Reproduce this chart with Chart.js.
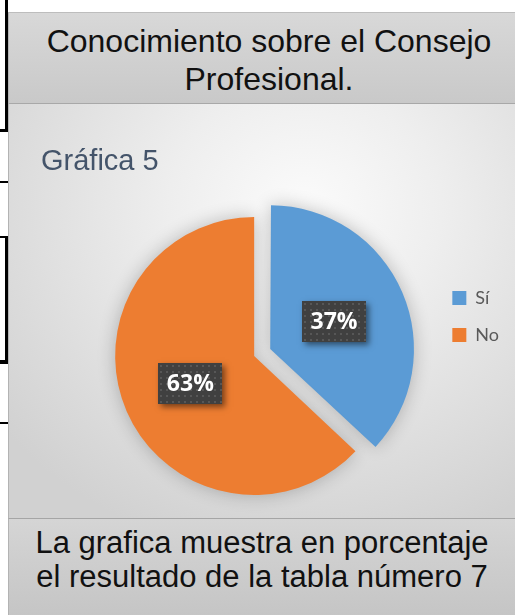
<!DOCTYPE html>
<html>
<head>
<meta charset="utf-8">
<script src="https://cdn.jsdelivr.net/npm/chart.js@4.4.1/dist/chart.umd.min.js"></script>
<style>
  html, body { margin: 0; padding: 0; background: #fff; }
  #page { position: relative; width: 515px; height: 615px; overflow: hidden; font-family: "Liberation Sans", Arial, sans-serif; }
  .ln { position: absolute; background: #000; }
  #header {
    position: absolute; left: 8px; top: 12px; width: 520px; height: 90px;
    border-top: 1px solid #bdbdbd; border-bottom: 1px solid #a8a8a8; border-left: 1px solid #b3b3b3;
    background: linear-gradient(#d8d8d8, #c9c9c9);
  }
  #header div { margin-top: 9px; text-align: center; font-size: 32px; line-height: 38px; color: #111; }
  #panel {
    position: absolute; left: 8px; top: 104px; width: 520px; height: 414px;
    border-left: 1px solid #b3b3b3;
    background: radial-gradient(ellipse 75% 85% at 57% 25%, #fbfbfb 0%, #eeeeee 35%, #d1d1d1 100%);
  }
  #footer {
    position: absolute; left: 8px; top: 518px; width: 506px; height: 97px;
    border-top: 1px solid #a5a5a5; border-left: 1px solid #b3b3b3;
    background: linear-gradient(#d5d5d5, #c5c5c5);
  }
  #footer div { margin-top: 7px; text-align: center; font-size: 31px; line-height: 34px; color: #111; }
  #chartTitle { position: absolute; left: 41px; top: 146px; font-size: 29px; line-height: 29px; color: #44546A; }
  #chart { position: absolute; left: 0; top: 0; }
</style>
</head>
<body>
<div id="page">
  <div class="ln" style="left:5px;top:0;width:3px;height:132px"></div>
  <div class="ln" style="left:0;top:129px;width:8px;height:3px"></div>
  <div class="ln" style="left:0;top:181px;width:8px;height:2px"></div>
  <div class="ln" style="left:0;top:236px;width:8px;height:2px"></div>
  <div class="ln" style="left:5px;top:236px;width:3px;height:128px"></div>
  <div class="ln" style="left:0;top:360px;width:8px;height:4px"></div>
  <div class="ln" style="left:0;top:422px;width:8px;height:2px"></div>

  <div id="header"><div>Conocimiento sobre el Consejo<br>Profesional.</div></div>
  <div id="panel"></div>
  <div id="footer"><div>La grafica muestra en porcentaje<br>el resultado de la tabla número 7</div></div>
  <canvas id="chart" width="515" height="615"></canvas>
  <div id="chartTitle">Gráfica 5</div>
</div>

<script>
const categories = ['Sí', 'No'];
const percents = [37, 63];
const sliceColors = ['#5B9BD5', '#ED7D31'];

// soft grey halo under the pie
const pieShadow = {
  id: 'pieShadow',
  beforeDatasetsDraw(chart) {
    const ctx = chart.ctx;
    ctx.save();
    ctx.shadowColor = 'rgba(0,0,0,0.24)';
    ctx.shadowBlur = 18;
  },
  afterDatasetsDraw(chart) {
    chart.ctx.restore();
  }
};

// dark boxed percentage labels, like the office data labels
const labelBoxes = {
  id: 'labelBoxes',
  afterDatasetsDraw(chart) {
    const ctx = chart.ctx;
    const meta = chart.getDatasetMeta(0);
    const values = chart.data.datasets[0].data;
    meta.data.forEach((arc, i) => {
      const mid = (arc.startAngle + arc.endAngle) / 2;
      // arcs are pushed out by offset / 4 when drawn
      const dist = arc.outerRadius / 2 + (arc.options.offset || 0) / 4;
      const x = arc.x + Math.cos(mid) * dist;
      const y = arc.y + Math.sin(mid) * dist;
      const w = 64, h = 41;
      const left = Math.round(x - w / 2), top = Math.round(y - h / 2);

      ctx.save();
      ctx.shadowColor = 'rgba(0,0,0,0.5)';
      ctx.shadowBlur = 6;
      ctx.shadowOffsetX = 3;
      ctx.shadowOffsetY = 3;
      ctx.fillStyle = '#404040';
      ctx.fillRect(left, top, w, h);
      ctx.restore();

      ctx.save();
      ctx.fillStyle = '#575757';
      for (let gx = left + 2; gx < left + w - 1; gx += 6) {
        for (let gy = top + 2; gy < top + h - 1; gy += 6) {
          ctx.fillRect(gx, gy, 2, 2);
        }
      }
      ctx.fillStyle = '#ffffff';
      ctx.font = 'bold 23px "Open Sans", sans-serif';
      ctx.textAlign = 'center';
      ctx.textBaseline = 'middle';
      ctx.fillText(values[i] + '%', x, y + 1);
      ctx.restore();
    });
  }
};

new Chart(document.getElementById('chart').getContext('2d'), {
  type: 'pie',
  data: {
    labels: categories,
    datasets: [{
      data: percents,
      backgroundColor: sliceColors,
      borderWidth: 0,
      offset: [70, 0],
      clip: false
    }]
  },
  options: {
    responsive: false,
    animation: false,
    radius: 139,
    layout: { padding: { left: 75, right: 6, top: 270, bottom: 173 } },
    plugins: {
      tooltip: { enabled: false },
      title: { display: false },
      legend: {
        position: 'right',
        align: 'start',
        fullSize: false,
        labels: {
          boxWidth: 14,
          boxHeight: 14,
          padding: 19,
          color: '#595959',
          font: { family: 'Lato', size: 18 }
        }
      }
    }
  },
  plugins: [pieShadow, labelBoxes]
});
</script>
</body>
</html>
